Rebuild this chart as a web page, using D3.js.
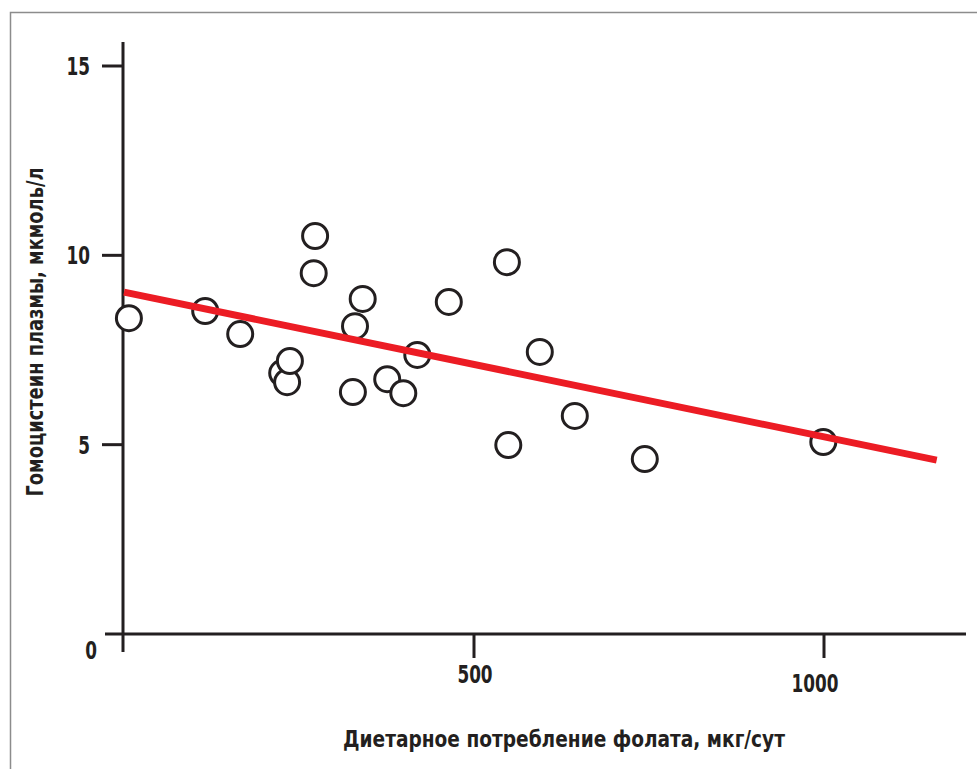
<!DOCTYPE html>
<html>
<head>
<meta charset="utf-8">
<script src="https://d3js.org/d3.v7.min.js"></script>
<style>
    body { margin: 0; background: #fff; }
    text {
        font-family: "DejaVu Sans Condensed", "DejaVu Sans", sans-serif;
        font-weight: bold;
        fill: #231f20;
    }
    .frame { fill: none; stroke: #8c8c8c; stroke-width: 1.5px; }
    .axisline { stroke: #231f20; stroke-width: 3px; }
    .dot { fill: #fff; stroke: #231f20; stroke-width: 3px; }
    .fit { stroke: #ec1c24; stroke-width: 7px; fill: none; }
</style>
</head>
<body>
<script>
    // folate intake (mcg/day) and plasma homocysteine (umol/l)
    var folate = [7, 116, 166, 226, 233, 237, 273, 271, 341, 330, 327,
                  376, 399, 419, 464, 547, 594, 549, 644, 744, 999];
    var homocysteine = [8.34, 8.53, 7.92, 6.89, 6.65, 7.21, 10.51, 9.53, 8.85, 8.13, 6.39,
                        6.73, 6.36, 7.37, 8.77, 9.82, 7.45, 4.99, 5.76, 4.62, 5.07];
    // regression line ends
    var fitX = [0, 1161];
    var fitY = [9.03, 4.59];
    var xTicks = [500, 1000];
    var yTicks = [0, 5, 10, 15];

    var W = 977, H = 769;
    var svg = d3.select("body").append("svg")
        .attr("width", W).attr("height", H);

    // frame (only left and top edges are visible)
    svg.append("path").attr("class", "frame")
        .attr("d", "M10.5," + H + " V12.5 H" + W);

    var x = d3.scaleLinear().domain([0, 1000]).range([124, 824]);
    var y = d3.scaleLinear().domain([0, 15]).range([634, 66]);

    // y axis line
    svg.append("line").attr("class", "axisline")
        .attr("x1", 123).attr("x2", 123)
        .attr("y1", 42).attr("y2", 652);
    // x axis line
    svg.append("line").attr("class", "axisline")
        .attr("x1", 105).attr("x2", 966)
        .attr("y1", y(0)).attr("y2", y(0));

    // y ticks
    svg.append("g").selectAll("line")
        .data(yTicks.filter(function (d) { return d > 0; }))
        .enter().append("line").attr("class", "axisline")
        .attr("x1", 102).attr("x2", 123)
        .attr("y1", function (d) { return y(d); })
        .attr("y2", function (d) { return y(d); });
    svg.append("g").selectAll("text")
        .data(yTicks)
        .enter().append("text")
        .attr("transform", function (d) {
            var tx = d == 0 ? 97 : 90;
            var ty = d == 0 ? y(d) + 16 : y(d);
            return "translate(" + tx + "," + ty + ") scale(0.75,1)";
        })
        .attr("text-anchor", "end")
        .attr("dominant-baseline", "central")
        .style("font-size", "25px")
        .text(function (d) { return d; });

    // x ticks
    svg.append("g").selectAll("line")
        .data(xTicks)
        .enter().append("line").attr("class", "axisline")
        .attr("x1", function (d) { return x(d); })
        .attr("x2", function (d) { return x(d); })
        .attr("y1", y(0)).attr("y2", 658);
    svg.append("g").selectAll("text")
        .data(xTicks)
        .enter().append("text")
        .attr("transform", function (d) {
            var tx = d == 1000 ? x(d) - 9 : x(d) + 1;
            var ty = d == 1000 ? 683 : 674;
            return "translate(" + tx + "," + ty + ") scale(0.75,1)";
        })
        .attr("text-anchor", "middle")
        .attr("dominant-baseline", "central")
        .style("font-size", "25px")
        .text(function (d) { return d; });

    // axis titles
    svg.append("text")
        .attr("x", 564).attr("y", 747)
        .attr("text-anchor", "middle")
        .attr("textLength", 442)
        .attr("lengthAdjust", "spacingAndGlyphs")
        .style("font-size", "23px")
        .text("Диетарное потребление фолата, мкг/сут");
    svg.append("text")
        .attr("transform", "translate(43,332) rotate(-90)")
        .attr("text-anchor", "middle")
        .attr("textLength", 329)
        .attr("lengthAdjust", "spacingAndGlyphs")
        .style("font-size", "23px")
        .text("Гомоцистеин плазмы, мкмоль/л");

    // data points
    svg.append("g").selectAll("circle")
        .data(folate)
        .enter().append("circle").attr("class", "dot")
        .attr("cx", function (d) { return x(d); })
        .attr("cy", function (d, i) { return y(homocysteine[i]); })
        .attr("r", 12.5);

    // regression line
    var line = d3.line()
        .x(function (d) { return x(d); })
        .y(function (d, i) { return y(fitY[i]); });
    svg.append("path").attr("class", "fit")
        .attr("d", line(fitX));
</script>
</body>
</html>
